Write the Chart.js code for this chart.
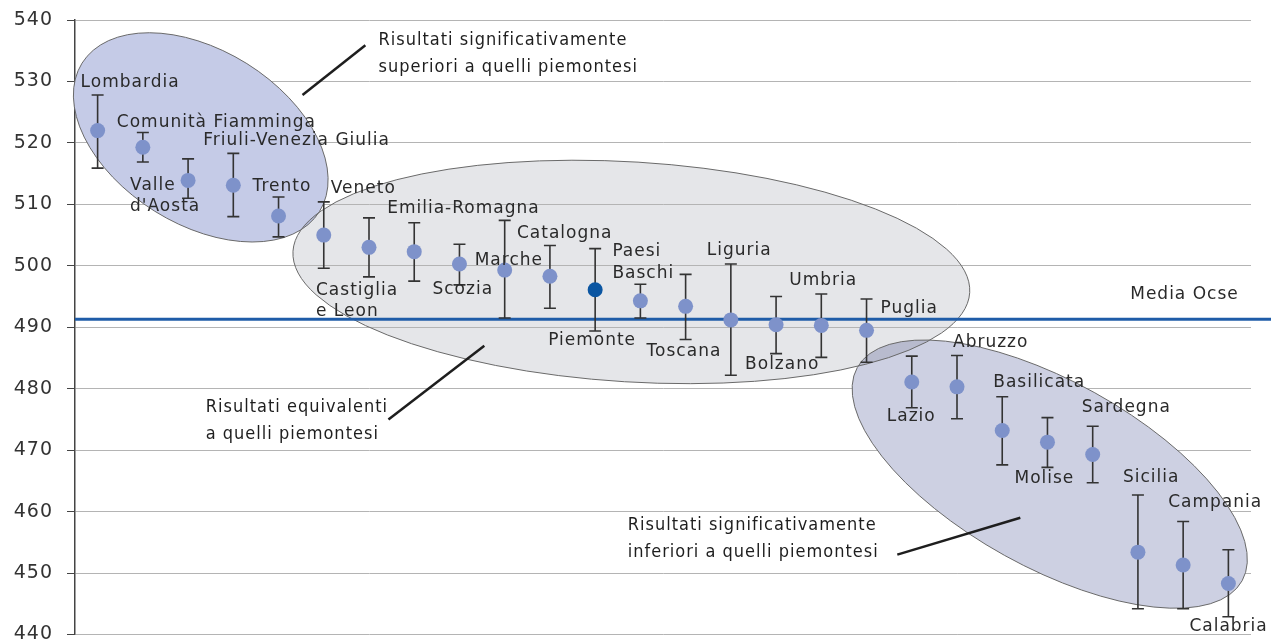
<!DOCTYPE html>
<html>
<head>
<meta charset="utf-8">
<script src="https://cdn.jsdelivr.net/npm/chart.js@4.4.1/dist/chart.umd.min.js"></script>
<style>
  html, body { margin: 0; padding: 0; background: #ffffff; }
  #wrap { width: 1271px; height: 642px; position: relative; }
</style>
</head>
<body>
<div id="wrap"><canvas id="ocseChart"></canvas></div>
<script>
// data
const regions = ['Lombardia', 'Comunità Fiamminga', ['Valle', "d'Aosta"], 'Friuli-Venezia Giulia', 'Trento',
    'Veneto', ['Castiglia', 'e Leon'], 'Emilia-Romagna', 'Scozia', 'Marche', 'Catalogna', 'Piemonte',
    ['Paesi', 'Baschi'], 'Toscana', 'Liguria', 'Bolzano', 'Umbria', 'Puglia', 'Lazio', 'Abruzzo',
    'Basilicata', 'Molise', 'Sardegna', 'Sicilia', 'Campania', 'Calabria'];
const scores  = [522.0, 519.3, 513.9, 513.1, 508.1, 505.0, 503.0, 502.3, 500.3, 499.3, 498.3, 496.1, 494.3,
    493.4, 491.2, 490.4, 490.3, 489.5, 481.1, 480.3, 473.2, 471.3, 469.3, 453.4, 451.3, 448.3];
const errHigh = [527.8, 521.7, 517.4, 518.3, 511.2, 510.4, 507.8, 507.0, 503.5, 507.4, 503.3, 502.8, 497.0,
    498.6, 500.3, 495.0, 495.4, 494.6, 485.3, 485.4, 478.7, 475.3, 473.9, 462.7, 458.4, 453.8];
const errLow  = [515.9, 516.9, 511.0, 508.0, 504.7, 499.6, 498.2, 497.5, 496.9, 491.5, 493.1, 489.4, 491.5,
    488.0, 482.2, 485.7, 485.1, 484.3, 476.9, 475.1, 467.6, 467.2, 464.7, 444.2, 444.2, 442.9];
const mediaOcse = 491.3;
const yMin = 440, yMax = 540, yStep = 10;

// label placement relative to each point, in px (text left, middle of first line)
const labelOffsets = [[-17, -48], [-26, -25], [-58, 5], [-30, -45], [-26, -29], [7, -46], [-53, 43], [-27, -43],
    [-27, 26], [-30, -10], [-33, -43], [-47, 51], [-28, -49], [-39, 45], [-24, -69], [-31, 40], [-32, -45],
    [14, -22], [-25, 35], [-4, -44], [-9, -48], [-33, 36], [-11, -47], [-15, -75], [-15, -62], [-39, 43]];

// group ellipses: centre in (category index, value), radii in px, rotation in degrees
const groups = [
    { x: 11.80, y: 499.0, rx: 339, ry: 110, rot: 3.5, fill: '#e5e6e9', under: true },
    { x: 2.28, y: 520.9, rx: 140, ry: 87, rot: 32, fill: '#c5cbe7' },
    { x: 21.05, y: 466.1, rx: 220, ry: 93, rot: 29, fill: '#cdd0e2' }
];

const notes = [
    { x: 6.21, y: 536.7, lines: ['Risultati significativamente', 'superiori a quelli piemontesi'], from: [4.53, 527.8], to: [5.92, 535.9] },
    { x: 2.39, y: 476.9, lines: ['Risultati equivalenti', 'a quelli piemontesi'], from: [6.43, 475.0], to: [8.55, 487.0] },
    { x: 11.72, y: 457.7, lines: ['Risultati significativamente', 'inferiori a quelli piemontesi'], from: [17.68, 453.0], to: [20.4, 459.0] }
];

const labelFont = '17px "DejaVu Sans", sans-serif';
const noteFont = '18px "Liberation Sans Narrow", "DejaVu Sans Condensed", sans-serif';

function ellipsePath(ctx, chart, g) {
    const xs = chart.scales.x, ys = chart.scales.y;
    ctx.beginPath();
    ctx.ellipse(xs.getPixelForValue(g.x), ys.getPixelForValue(g.y), g.rx, g.ry, g.rot * Math.PI / 180, 0, Math.PI * 2);
}

const decorations = {
    id: 'decorations',
    beforeDraw(chart) {
        const ctx = chart.ctx;
        ctx.letterSpacing = '1px';
        ctx.save();
        ctx.fillStyle = '#ffffff';
        ctx.fillRect(0, 0, chart.width, chart.height);
        groups.filter(g => g.under).forEach(g => {
            ellipsePath(ctx, chart, g);
            ctx.fillStyle = g.fill;
            ctx.fill();
        });
        ctx.restore();
    },
    beforeDatasetsDraw(chart) {
        const ctx = chart.ctx, xs = chart.scales.x, ys = chart.scales.y;
        const mid = groups[0];
        ctx.save();
        groups.filter(g => !g.under).forEach(g => {
            ellipsePath(ctx, chart, g);
            ctx.fillStyle = g.fill;
            ctx.fill();
            // darker where it overlaps the middle group
            ctx.save();
            ellipsePath(ctx, chart, g);
            ctx.clip();
            ctx.globalCompositeOperation = 'multiply';
            ellipsePath(ctx, chart, mid);
            ctx.fillStyle = mid.fill;
            ctx.fill();
            ctx.restore();
        });
        groups.forEach(g => {
            ellipsePath(ctx, chart, g);
            ctx.lineWidth = 1;
            ctx.strokeStyle = '#6a6a6a';
            ctx.stroke();
        });

        // Media Ocse line
        const yM = ys.getPixelForValue(mediaOcse);
        ctx.beginPath();
        ctx.moveTo(chart.chartArea.left, yM);
        ctx.lineTo(chart.width, yM);
        ctx.lineWidth = 3;
        ctx.strokeStyle = '#1f5ca8';
        ctx.stroke();

        // error bars
        ctx.lineWidth = 1.6;
        ctx.strokeStyle = '#333333';
        scores.forEach((v, i) => {
            const x = xs.getPixelForValue(i);
            const yh = ys.getPixelForValue(errHigh[i]);
            const yl = ys.getPixelForValue(errLow[i]);
            ctx.beginPath();
            ctx.moveTo(x, yh); ctx.lineTo(x, yl);
            ctx.moveTo(x - 6, yh); ctx.lineTo(x + 6, yh);
            ctx.moveTo(x - 6, yl); ctx.lineTo(x + 6, yl);
            ctx.stroke();
        });
        ctx.restore();
    },
    afterDatasetsDraw(chart) {
        const ctx = chart.ctx, xs = chart.scales.x, ys = chart.scales.y;
        ctx.save();
        ctx.letterSpacing = '1px';
        ctx.font = labelFont;
        ctx.fillStyle = '#2a2a2a';
        ctx.textAlign = 'left';
        ctx.textBaseline = 'middle';
        regions.forEach((name, i) => {
            const x = xs.getPixelForValue(i) + labelOffsets[i][0];
            const y = ys.getPixelForValue(scores[i]) + labelOffsets[i][1];
            const lines = Array.isArray(name) ? name : [name];
            lines.forEach((t, k) => ctx.fillText(t, x, y + k * 21.5));
        });
        ctx.fillText('Media Ocse', xs.getPixelForValue(22.83), ys.getPixelForValue(495.3));

        ctx.font = noteFont;
        ctx.fillStyle = '#1e1e1e';
        notes.forEach(n => {
            const x = xs.getPixelForValue(n.x), y = ys.getPixelForValue(n.y);
            n.lines.forEach((t, k) => ctx.fillText(t, x, y + k * 27));
            ctx.beginPath();
            ctx.moveTo(xs.getPixelForValue(n.from[0]), ys.getPixelForValue(n.from[1]));
            ctx.lineTo(xs.getPixelForValue(n.to[0]), ys.getPixelForValue(n.to[1]));
            ctx.lineWidth = 2.5;
            ctx.strokeStyle = '#1e1e1e';
            ctx.stroke();
        });
        ctx.restore();
    }
};

function createOcseChart() {
    const ctx = document.getElementById('ocseChart').getContext('2d');

    const config = {
        type: 'line',
        data: {
            labels: regions,
            datasets: [{
                data: scores,
                showLine: false,
                pointRadius: 7.5,
                pointHoverRadius: 7.5,
                pointBorderWidth: 0,
                pointBackgroundColor: regions.map(r => r === 'Piemonte' ? '#0b56a2' : '#7e92ca')
            }]
        },
        options: {
            responsive: true,
            maintainAspectRatio: false,
            animation: false,
            layout: { padding: { top: 20, bottom: 7, right: 20, left: 0 } },
            plugins: {
                legend: { display: false },
                tooltip: { enabled: false },
                title: { display: false }
            },
            scales: {
                x: {
                    type: 'category',
                    display: false,
                    offset: true
                },
                y: {
                    min: yMin,
                    max: yMax,
                    ticks: {
                        stepSize: yStep,
                        color: '#333333',
                        font: { family: '"DejaVu Sans", sans-serif', size: 19 },
                        padding: 14
                    },
                    grid: {
                        color: '#b4b4b4',
                        lineWidth: 1,
                        tickLength: 8,
                        tickColor: '#444444'
                    },
                    border: { color: '#444444', width: 1.5 },
                    afterFit(scale) {
                        scale.width = 75;
                        scale.paddingTop = 0;
                        scale.paddingBottom = 0;
                    }
                }
            }
        },
        plugins: [decorations]
    };

    new Chart(ctx, config);
}

createOcseChart();
</script>
</body>
</html>
